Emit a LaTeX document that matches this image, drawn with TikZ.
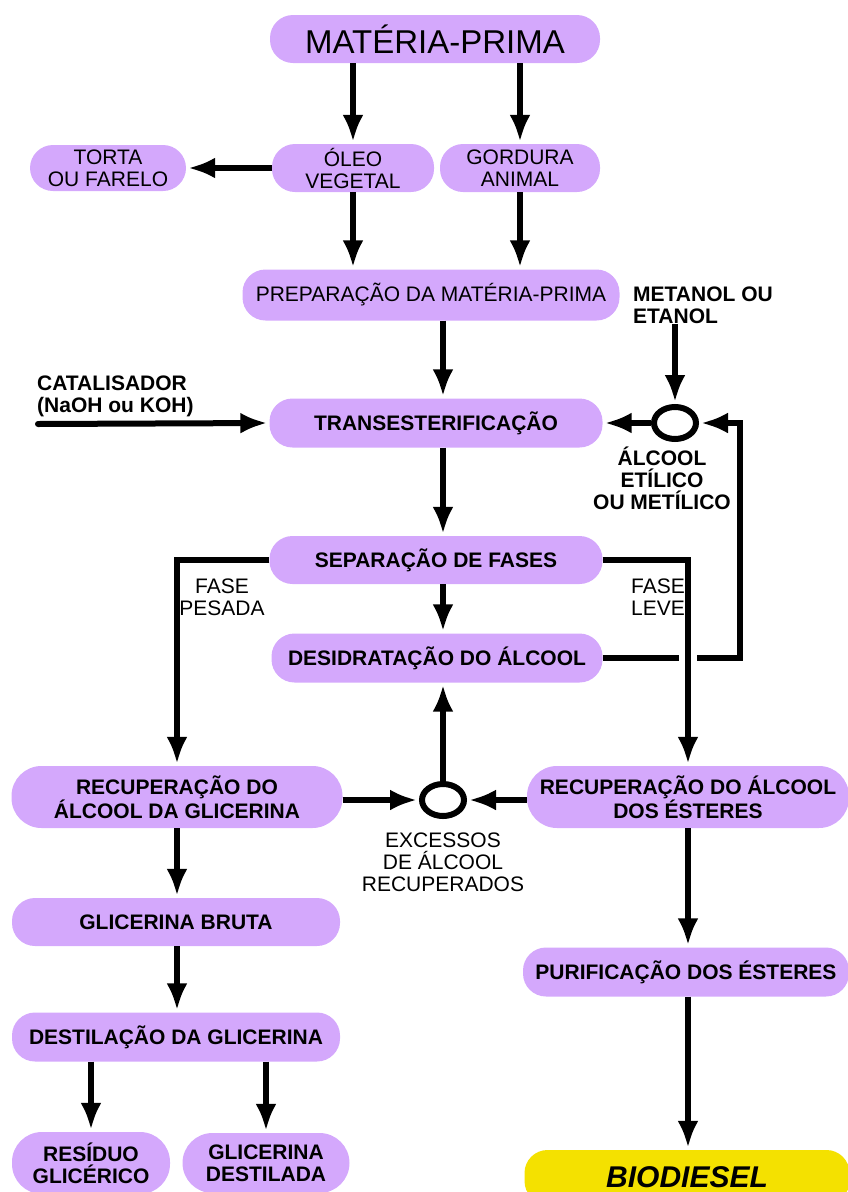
\documentclass[tikz,border=0pt]{standalone}
\usepackage{fontspec}
\setmainfont{Liberation Sans}
\usetikzlibrary{arrows.meta,shapes.geometric}
\definecolor{lilas}{RGB}{212,168,252}
\definecolor{amarelo}{RGB}{244,225,0}
\tikzset{
	etapa/.style={
			fill=lilas, rounded corners=23pt, align=center, inner sep=0pt,
			font=\fontsize{21}{22}\selectfont
		},
	rotulo/.style={align=center, inner sep=0pt, font=\fontsize{21}{22}\selectfont\bfseries},
	fluxo/.style={line width=6pt, shorten >=2pt, -{Latex[length=27pt,width=21pt]}},
	juncao/.style={draw, ellipse, line width=6pt, minimum width=42pt, minimum height=32pt, inner sep=0pt}
}

\begin{document}
\begin{tikzpicture}[x=1pt,y=-1pt]
	\useasboundingbox (0,0) rectangle (847,1192);

	% materia-prima e preparacao
	\node[etapa, minimum width=330pt, minimum height=48pt, font=\fontsize{33}{34}\selectfont] (mp) at (435,39) {MATÉRIA-PRIMA};
	\node[etapa, minimum width=156pt, minimum height=46pt] (torta) at (108,168) {TORTA\\OU FARELO};
	\node[etapa, minimum width=162pt, minimum height=48pt] (oleo) at (353,168) {ÓLEO\\VEGETAL};
	\node[etapa, minimum width=160pt, minimum height=48pt] (gordura) at (520,168) {GORDURA\\ANIMAL};
	\node[etapa, minimum width=377pt, minimum height=51pt] (prep) at (431,295) {PREPARAÇÃO DA MATÉRIA-PRIMA};

	% reacao
	\node[rotulo, anchor=west, align=left] (metanol) at (633,305) {METANOL OU\\ETANOL};
	\node[rotulo, anchor=west, align=left] (catalisador) at (37,396) {CATALISADOR\\(NaOH ou KOH)};
	\node[etapa, minimum width=333pt, minimum height=49pt, font=\fontsize{21}{22}\selectfont\bfseries] (trans) at (436,423) {TRANSESTERIFICAÇÃO};
	\node[juncao] (j1) at (675,423) {};
	\node[rotulo] (alcool) at (662,478) {ÁLCOOL\\ETÍLICO\\OU METÍLICO};
	\node[etapa, minimum width=333pt, minimum height=48pt, font=\fontsize{21}{22}\selectfont\bfseries] (sep) at (436,560) {SEPARAÇÃO DE FASES};
	\node[rotulo, font=\fontsize{21}{22}\selectfont] (pesada) at (222,597) {FASE\\PESADA};
	\node[rotulo, font=\fontsize{21}{22}\selectfont] (leve) at (658,597) {FASE\\LEVE};
	\node[etapa, minimum width=331pt, minimum height=49pt, font=\fontsize{21}{22}\selectfont\bfseries] (desid) at (437,658) {DESIDRATAÇÃO DO ÁLCOOL};

	% recuperacao
	\node[etapa, minimum width=331pt, minimum height=62pt, rounded corners=30pt, font=\fontsize{21}{22}\selectfont\bfseries] (recg) at (177,797) {RECUPERAÇÃO DO\\ÁLCOOL DA GLICERINA};
	\node[juncao] (j2) at (443,800) {};
	\node[etapa, minimum width=322pt, minimum height=62pt, rounded corners=30pt, font=\fontsize{21}{22}\selectfont\bfseries] (rece) at (688,797) {RECUPERAÇÃO DO ÁLCOOL\\DOS ÉSTERES};
	\node[rotulo, font=\fontsize{21}{22}\selectfont] (excessos) at (443,862) {EXCESSOS\\DE ÁLCOOL\\RECUPERADOS};

	% glicerina
	\node[etapa, minimum width=328pt, minimum height=48pt, font=\fontsize{21}{22}\selectfont\bfseries] (bruta) at (176,922) {GLICERINA BRUTA};
	\node[etapa, minimum width=328pt, minimum height=49pt, font=\fontsize{21}{22}\selectfont\bfseries] (dest) at (176,1037) {DESTILAÇÃO DA GLICERINA};
	\node[etapa, minimum width=158pt, minimum height=62pt, rounded corners=30pt, font=\fontsize{21}{22}\selectfont\bfseries] (residuo) at (91,1163) {RESÍDUO\\GLICÉRICO};
	\node[etapa, minimum width=167pt, minimum height=60pt, rounded corners=30pt, font=\fontsize{21}{22}\selectfont\bfseries] (destilada) at (266,1163) {GLICERINA\\DESTILADA};

	% esteres
	\node[etapa, minimum width=326pt, minimum height=49pt, font=\fontsize{21}{22}\selectfont\bfseries] (purif) at (686,972) {PURIFICAÇÃO DOS ÉSTERES};
	\node[etapa, fill=amarelo, minimum width=325pt, minimum height=54pt, font=\fontsize{30}{32}\selectfont\bfseries\itshape] (bio) at (687,1177) {BIODIESEL};

	\coordinate (cat) at (38,424);
	\coordinate (volta) at (740,658);

	% conectores
	\draw[fluxo] (mp.south -| oleo.north) -- (oleo.north);
	\draw[fluxo] (mp.south -| gordura.north) -- (gordura.north);
	\draw[fluxo] (oleo.west) -- (oleo.west -| torta.east);
	\draw[fluxo] (oleo.south) -- (oleo.south |- prep.north);
	\draw[fluxo] (gordura.south) -- (gordura.south |- prep.north);
	\draw[fluxo] (prep.south -| j2) -- (trans.north -| j2);
	\draw[fluxo, line cap=round] (cat) -- (trans.west);
	\draw[fluxo] (metanol.south -| j1.north) -- (j1.north);
	\draw[fluxo] (j1.west) -- (trans.east);
	\draw[fluxo] (trans.south -| j2) -- (sep.north -| j2);
	\draw[fluxo] (sep.south -| j2) -- (desid.north -| j2);
	\draw[fluxo] (desid.east) -- (volta) |- (j1.east);
	\draw[white, line width=18pt] (desid.east -| rece.north) ++(0,-10) -- ++(0,20);
	\draw[fluxo] (sep.west) -| (recg.north);
	\draw[fluxo] (sep.east) -| (rece.north);
	\draw[fluxo] (j2.north) -- (desid.south -| j2);
	\draw[fluxo] (recg.east |- j2) -- (j2.west);
	\draw[fluxo] (rece.west |- j2) -- (j2.east);
	\draw[fluxo] (recg.south) -- (recg.south |- bruta.north);
	\draw[fluxo] (recg.south |- bruta.south) -- (recg.south |- dest.north);
	\draw[fluxo] (dest.south -| residuo.north) -- (residuo.north);
	\draw[fluxo] (dest.south -| destilada.north) -- (destilada.north);
	\draw[fluxo] (rece.south) -- (purif.north -| rece.south);
	\draw[fluxo] (purif.south -| rece.south) -- (bio.north -| rece.south);
\end{tikzpicture}
\end{document}
